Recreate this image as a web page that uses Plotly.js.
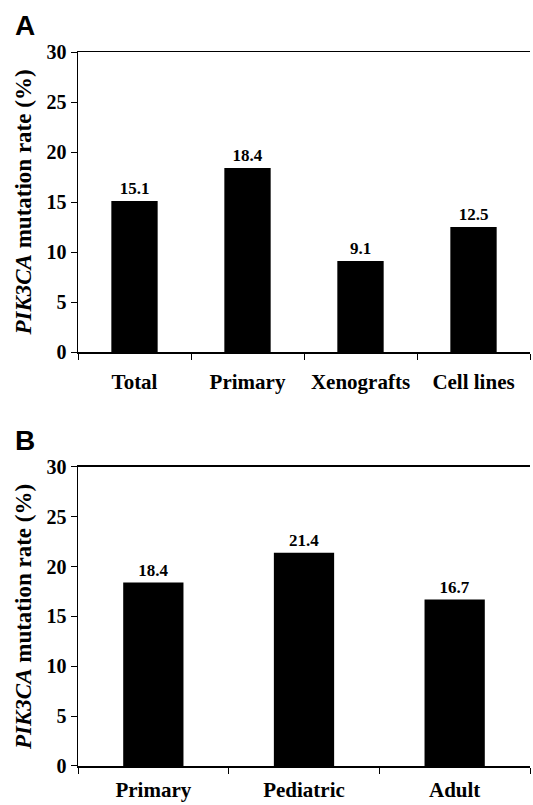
<!DOCTYPE html>
<html>
<head>
<meta charset="utf-8">
<script src="https://cdn.plot.ly/plotly-3.0.1.min.js"></script>
<style>html,body{margin:0;padding:0;background:#fff;}</style>
</head>
<body>
<div id="chart" style="width:533px;height:805px;"></div>
<script>
const catsA = ['Total', 'Primary', 'Xenografts', 'Cell lines'];
const valsA = [15.1, 18.4, 9.1, 12.5];
const catsB = ['Primary', 'Pediatric', 'Adult'];
const valsB = [18.4, 21.4, 16.7];
const yTicks = [0, 5, 10, 15, 20, 25, 30];

const serif = 'Liberation Serif, Times New Roman, serif';
const labelFont = {family: serif, size: 17, color: '#000'};

const traces = [
  {
    type: 'bar', x: catsA, y: valsA, xaxis: 'x', yaxis: 'y',
    marker: {color: '#000', line: {width: 0}}, width: 0.41,
    text: valsA.map(v => '<b>' + v.toFixed(1) + '</b>'), textposition: 'outside',
    textfont: labelFont, constraintext: 'none', cliponaxis: false,
    hoverinfo: 'none'
  },
  {
    type: 'bar', x: catsB, y: valsB, xaxis: 'x2', yaxis: 'y2',
    marker: {color: '#000', line: {width: 0}}, width: 0.4,
    text: valsB.map(v => '<b>' + v.toFixed(1) + '</b>'), textposition: 'outside',
    textfont: labelFont, constraintext: 'none', cliponaxis: false,
    hoverinfo: 'none'
  }
];

const xCommon = {
  type: 'category', showline: true, linecolor: '#000', linewidth: 1.5, mirror: true,
  ticks: 'outside', ticklen: 6, tickwidth: 1, tickcolor: '#000', tickson: 'boundaries',
  showgrid: false, zeroline: false,
  tickfont: {family: serif, size: 21, color: '#000'}
};
const yCommon = {
  range: [0, 30], tickvals: yTicks, ticktext: yTicks.map(v => '<b>' + v + '</b>'),
  showline: true, linecolor: '#000', linewidth: 1.5,
  ticks: 'outside', ticklen: 6, tickwidth: 1, tickcolor: '#000',
  showgrid: false, zeroline: false,
  tickfont: {family: serif, size: 20, color: '#000'},
  title: {text: '<b><i>PIK3CA</i> mutation rate (%)</b>', font: {family: serif, size: 23, color: '#000'}, standoff: 8}
};

const layout = {
  width: 533, height: 805,
  margin: {l: 78, r: 3, t: 52, b: 39},
  paper_bgcolor: '#fff', plot_bgcolor: '#fff',
  showlegend: false,
  xaxis: Object.assign({}, xCommon, {anchor: 'y', domain: [0, 1], ticklabelstandoff: 10,
    tickvals: catsA, ticktext: catsA.map(c => '<b>' + c + '</b>')}),
  yaxis: Object.assign({}, yCommon, {anchor: 'x', domain: [0.5798, 1]}),
  xaxis2: Object.assign({}, xCommon, {anchor: 'y2', domain: [0, 1], ticklabelstandoff: 4,
    tickvals: catsB, ticktext: catsB.map(c => '<b>' + c + '</b>')}),
  yaxis2: Object.assign({}, yCommon, {anchor: 'x2', domain: [0, 0.4188]}),
  annotations: [
    {text: '<b>A</b>', xref: 'paper', yref: 'paper', x: -0.1438, y: 1.0378, xanchor: 'left', yanchor: 'middle', showarrow: false,
     font: {family: 'Liberation Sans, Arial, sans-serif', size: 28, color: '#000'}},
    {text: '<b>B</b>', xref: 'paper', yref: 'paper', x: -0.1438, y: 0.4552, xanchor: 'left', yanchor: 'middle', showarrow: false,
     font: {family: 'Liberation Sans, Arial, sans-serif', size: 28, color: '#000'}}
  ]
};

Plotly.newPlot('chart', traces, layout, {displayModeBar: false, staticPlot: true});
</script>
</body>
</html>
